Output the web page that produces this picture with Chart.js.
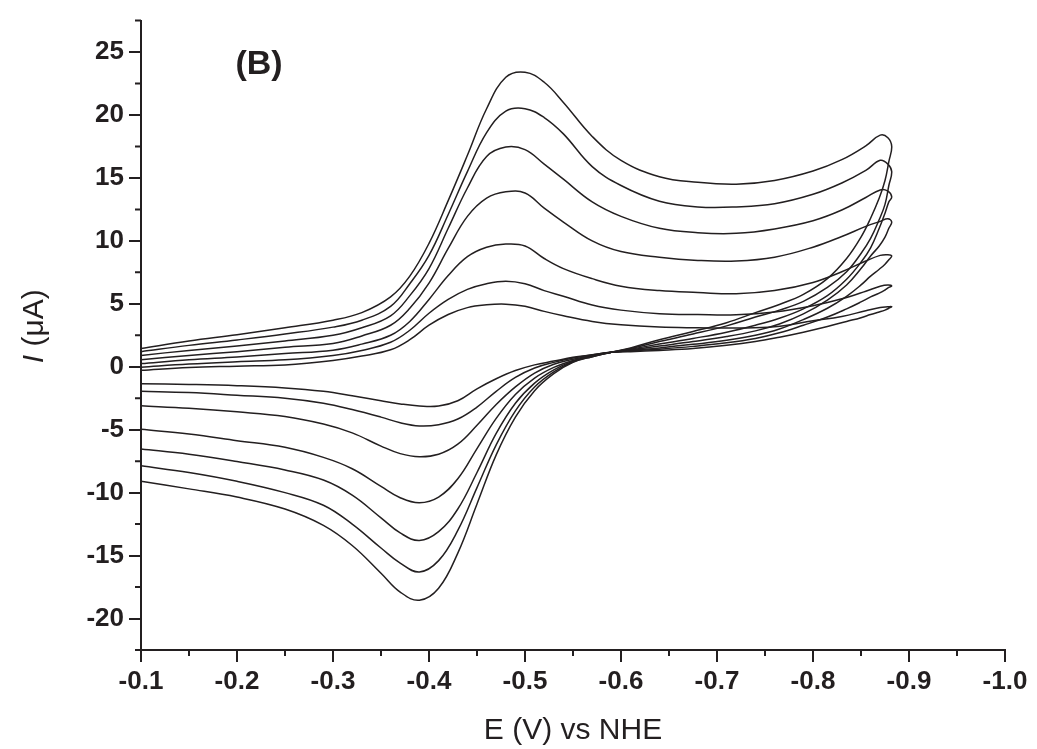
<!DOCTYPE html>
<html>
<head>
<meta charset="utf-8">
<script src="https://cdn.jsdelivr.net/npm/chart.js@4.4.1/dist/chart.umd.min.js"></script>
<style>
  html, body { margin: 0; padding: 0; background: #fff; }
  #wrap { width: 1037px; height: 749px; position: relative; }
</style>
</head>
<body>
<div id="wrap"><canvas id="cv"></canvas></div>
<script>
// ===== Cyclic voltammograms (B), 7 scans =====
const INK = "#231f20";
const FONT = "'Liberation Sans', Arial, sans-serif";

// forward sweep (-0.1 -> -0.882 V), potentials shared by every scan
const E_FWD = [-0.10, -0.15, -0.20, -0.25, -0.30, -0.33, -0.36, -0.38, -0.40, -0.42, -0.44, -0.46, -0.48, -0.50,
  -0.52, -0.54, -0.57, -0.60, -0.64, -0.68, -0.72, -0.76, -0.80, -0.83, -0.855, -0.87, -0.878, -0.882];

const fwd1 = [1.45, 2.05, 2.55, 3.1, 3.7, 4.3, 5.55, 7.2, 9.8, 13.2, 16.8, 20.5, 23.0, 23.4, 22.6, 21.0, 18.3, 16.4, 15.1, 14.65, 14.5, 14.8, 15.55, 16.45, 17.55, 18.4, 18.2, 17.5];
const fwd2 = [1.2, 1.7, 2.13, 2.6, 3.15, 3.7, 4.8, 6.6, 8.85, 12.1, 15.5, 18.6, 20.3, 20.5, 19.8, 18.5, 15.9, 14.4, 13.15, 12.7, 12.7, 12.95, 13.7, 14.6, 15.6, 16.4, 16.1, 15.5];
const fwd3 = [0.9, 1.3, 1.65, 2.05, 2.5, 3.1, 4.05, 5.65, 7.8, 11.0, 14.2, 16.7, 17.45, 17.25, 16.1, 14.9, 13.1, 11.95, 11.0, 10.65, 10.6, 10.95, 11.6, 12.45, 13.45, 14.05, 13.95, 13.5];
const fwd4 = [0.55, 0.9, 1.2, 1.55, 1.85, 2.45, 3.3, 4.65, 6.65, 9.4, 11.95, 13.4, 13.9, 13.8, 12.6, 11.5, 10.0, 9.15, 8.7, 8.45, 8.4, 8.7, 9.5, 10.35, 11.15, 11.55, 11.75, 11.5];
const fwd5 = [0.25, 0.55, 0.78, 1.05, 1.32, 1.8, 2.5, 3.6, 5.35, 7.25, 8.75, 9.5, 9.75, 9.6, 8.6, 7.8, 7.0, 6.4, 6.05, 5.9, 5.8, 6.05, 6.7, 7.55, 8.4, 8.85, 8.9, 8.8];
const fwd6 = [-0.03, 0.22, 0.4, 0.55, 0.9, 1.3, 1.95, 2.9, 4.25, 5.35, 6.15, 6.6, 6.8, 6.6, 6.05, 5.6, 4.9, 4.5, 4.22, 4.15, 4.13, 4.35, 4.85, 5.4, 6.0, 6.4, 6.5, 6.42];
const fwd7 = [-0.28, -0.05, 0.05, 0.15, 0.5, 0.85, 1.35, 2.15, 3.3, 4.15, 4.7, 4.92, 4.97, 4.8, 4.4, 4.05, 3.6, 3.33, 3.15, 3.1, 3.08, 3.18, 3.65, 4.0, 4.45, 4.7, 4.76, 4.78];

// reverse sweep (-0.879 -> -0.1 V)
const E_REV = [-0.879, -0.875, -0.869, -0.86, -0.85, -0.835, -0.815, -0.79, -0.765, -0.74, -0.71, -0.675, -0.64, -0.61, -0.59,
  -0.57, -0.55, -0.53, -0.51, -0.49, -0.47, -0.45, -0.43, -0.41, -0.39, -0.37, -0.35, -0.32, -0.29, -0.25, -0.20, -0.15, -0.10];

const rev1 = [16.3, 14.8, 13.4, 11.8, 10.3, 8.6, 7.0, 5.75, 4.95, 4.3, 3.5, 2.8, 2.15, 1.5, 1.15, 0.8, 0.35, -0.55, -1.9, -4.0, -7.0, -10.9, -14.8, -17.6, -18.55, -17.9, -16.4, -14.2, -12.6, -11.3, -10.35, -9.7, -9.1];
const rev2 = [14.4, 12.9, 11.7, 10.2, 9.0, 7.55, 6.3, 5.2, 4.5, 3.95, 3.25, 2.6, 2.0, 1.45, 1.15, 0.8, 0.4, -0.4, -1.6, -3.5, -6.2, -9.6, -13.0, -15.4, -16.3, -15.6, -14.4, -12.5, -11.0, -10.0, -9.1, -8.4, -7.87];
const rev3 = [13.1, 12.2, 11.0, 9.45, 8.3, 6.95, 5.65, 4.6, 3.85, 3.3, 2.75, 2.25, 1.8, 1.4, 1.15, 0.85, 0.45, -0.25, -1.3, -2.9, -5.3, -8.4, -11.3, -13.1, -13.8, -13.2, -12.0, -10.2, -9.0, -8.2, -7.53, -6.95, -6.53];
const rev4 = [11.0, 10.3, 9.6, 8.8, 7.8, 6.5, 5.3, 4.2, 3.4, 2.85, 2.4, 2.0, 1.65, 1.35, 1.15, 0.85, 0.5, -0.05, -0.9, -2.2, -4.1, -6.5, -8.9, -10.35, -10.8, -10.4, -9.5, -8.1, -7.2, -6.4, -5.87, -5.35, -4.97];
const rev5 = [8.5, 8.15, 7.75, 7.2, 6.5, 5.6, 4.65, 3.75, 3.0, 2.5, 2.1, 1.78, 1.5, 1.3, 1.15, 0.9, 0.6, 0.2, -0.5, -1.6, -3.0, -4.65, -6.15, -6.95, -7.15, -6.9, -6.3, -5.25, -4.55, -3.95, -3.58, -3.3, -3.1];
const rev6 = [6.3, 6.1, 5.85, 5.55, 5.15, 4.6, 3.95, 3.3, 2.7, 2.25, 1.9, 1.62, 1.4, 1.25, 1.15, 0.95, 0.7, 0.35, -0.1, -0.85, -1.95, -3.2, -4.15, -4.6, -4.7, -4.45, -4.0, -3.4, -2.9, -2.5, -2.26, -2.05, -1.95];
const rev7 = [4.65, 4.5, 4.35, 4.15, 3.9, 3.6, 3.2, 2.75, 2.35, 2.0, 1.7, 1.45, 1.3, 1.2, 1.15, 0.95, 0.75, 0.45, 0.15, -0.3, -0.95, -1.75, -2.7, -3.12, -3.12, -2.95, -2.7, -2.3, -1.95, -1.68, -1.5, -1.4, -1.34];

// axes
const X_MIN = -1.0, X_MAX = -0.1, X_STEP = 0.05;
const Y_MIN = -22.5, Y_MAX = 27.5, Y_STEP = 2.5;
const PANEL_LABEL = "(B)";
const PANEL_AT = { x: -0.223, y: 24.0 };

const scans = [[fwd1, rev1], [fwd2, rev2], [fwd3, rev3], [fwd4, rev4], [fwd5, rev5], [fwd6, rev6], [fwd7, rev7]];

const datasets = scans.map(([f, r]) => ({
  data: E_FWD.map((e, i) => ({ x: e, y: f[i] })).concat(E_REV.map((e, i) => ({ x: e, y: r[i] }))),
  borderColor: INK,
  borderWidth: 1.5,
  pointRadius: 0,
  tension: 0.4,
  fill: false
}));

const isMajorX = v => Math.abs(Math.round(v * 100)) % 10 === 0;
const isMajorY = v => Math.abs(Math.round(v * 10)) % 50 === 0;

// short minor ticks, panel label, y title
const extras = {
  id: "extras",
  afterDraw(chart) {
    const { ctx, chartArea, scales } = chart;
    ctx.save();
    ctx.strokeStyle = INK;
    ctx.lineWidth = 2;
    ctx.beginPath();
    scales.x.ticks.forEach(t => {
      if (isMajorX(t.value)) return;
      const px = scales.x.getPixelForValue(t.value);
      ctx.moveTo(px, chartArea.bottom);
      ctx.lineTo(px, chartArea.bottom + 6);
    });
    scales.y.ticks.forEach(t => {
      if (isMajorY(t.value)) return;
      const py = scales.y.getPixelForValue(t.value);
      ctx.moveTo(chartArea.left, py);
      ctx.lineTo(chartArea.left - 6, py);
    });
    ctx.stroke();

    ctx.fillStyle = INK;
    ctx.font = "bold 34px " + FONT;
    ctx.textAlign = "center";
    ctx.textBaseline = "middle";
    ctx.fillText(PANEL_LABEL, scales.x.getPixelForValue(PANEL_AT.x), scales.y.getPixelForValue(PANEL_AT.y));

    // y title, italic I
    const cy = (chartArea.top + chartArea.bottom) / 2 - 9;
    ctx.translate(43, cy);
    ctx.rotate(-Math.PI / 2);
    ctx.textAlign = "left";
    ctx.textBaseline = "alphabetic";
    const fI = "italic 30px " + FONT, fR = "30px " + FONT;
    ctx.font = fI; const wI = ctx.measureText("I").width;
    ctx.font = fR; const wR = ctx.measureText(" (\u03bcA)").width;
    const x0 = -(wI + wR) / 2;
    ctx.font = fI; ctx.fillText("I", x0, 0);
    ctx.font = fR; ctx.fillText(" (\u03bcA)", x0 + wI, 0);
    ctx.restore();
  }
};

new Chart(document.getElementById("cv"), {
  type: "line",
  data: { datasets },
  options: {
    responsive: true,
    maintainAspectRatio: false,
    animation: false,
    layout: { padding: { top: 15, right: 32, left: 0, bottom: 0 } },
    plugins: { legend: { display: false }, tooltip: { enabled: false } },
    scales: {
      x: {
        type: "linear",
        reverse: true,
        min: X_MIN,
        max: X_MAX,
        afterFit: s => { s.height = 99; },
        border: { display: true, color: INK, width: 2 },
        grid: {
          drawOnChartArea: false,
          tickLength: 12,
          lineWidth: 2,
          tickColor: c => (c.tick && isMajorX(c.tick.value) ? INK : "transparent")
        },
        ticks: {
          stepSize: X_STEP,
          autoSkip: false,
          maxRotation: 0,
          padding: 4,
          color: INK,
          font: { family: FONT, size: 26, weight: "bold" },
          callback: v => (isMajorX(v) ? v.toFixed(1) : "")
        },
        title: {
          display: true,
          text: "E (V) vs NHE",
          color: INK,
          font: { family: FONT, size: 30 },
          padding: { top: 0, bottom: 0 }
        }
      },
      y: {
        type: "linear",
        min: Y_MIN,
        max: Y_MAX,
        afterFit: s => { s.width = 141; },
        border: { display: true, color: INK, width: 2 },
        grid: {
          drawOnChartArea: false,
          tickLength: 12,
          lineWidth: 2,
          tickColor: c => (c.tick && isMajorY(c.tick.value) ? INK : "transparent")
        },
        ticks: {
          stepSize: Y_STEP,
          autoSkip: false,
          padding: 5,
          color: INK,
          font: { family: FONT, size: 26, weight: "bold" },
          callback: v => (isMajorY(v) ? String(v) : "")
        }
      }
    }
  },
  plugins: [extras]
});
</script>
</body>
</html>
